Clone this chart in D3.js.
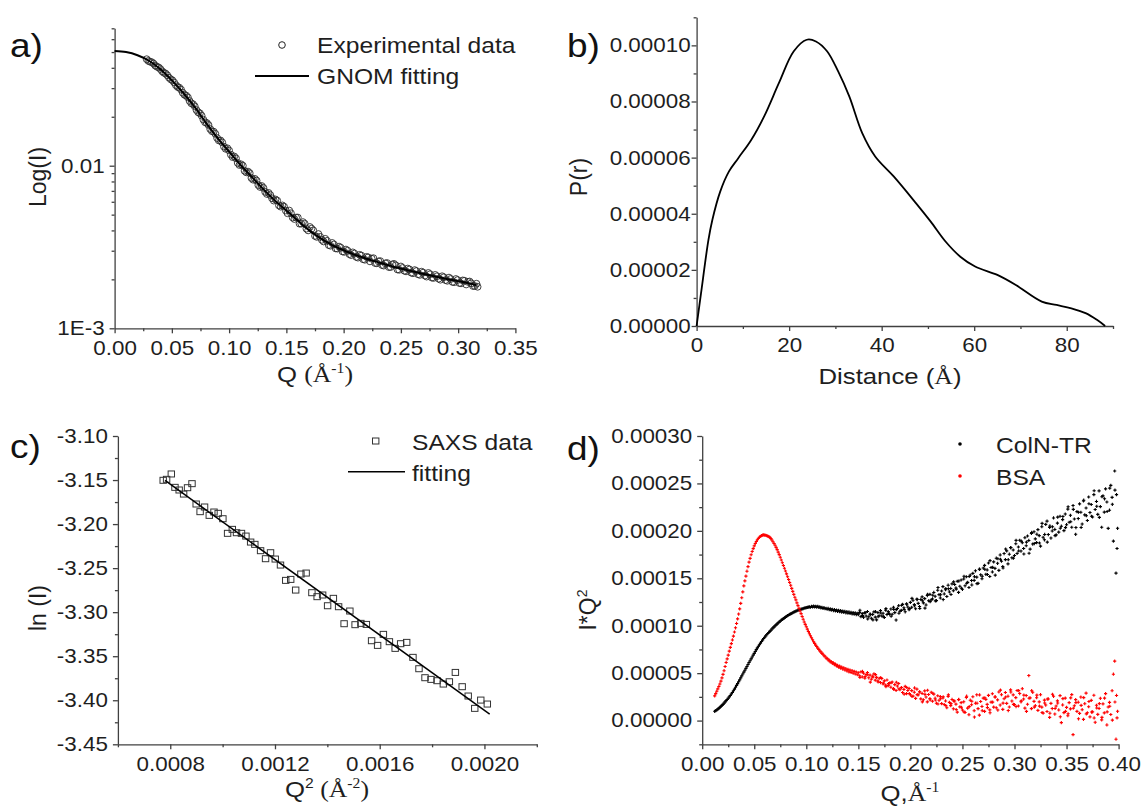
<!DOCTYPE html>
<html>
<head>
<meta charset="utf-8">
<script src="https://cdn.jsdelivr.net/npm/d3@7"></script>
<style>
  body { margin: 0; background: #fff; }
  svg { display: block; font-family: "Liberation Sans", Arial, sans-serif; }
  .tick text { font-size: 20px; fill: #1e1e1e; }
  .domain, .tick line { stroke: #404040; stroke-width: 1.3; }
  .title { font-size: 23px; fill: #1e1e1e; }
  .legend { font-size: 22px; fill: #1e1e1e; }
  .panel { font-size: 33px; fill: #111; }
  .serif { font-family: "Liberation Serif", "Times New Roman", serif; }
</style>
</head>
<body>
<div id="chart"></div>
<script>
// ---- a) SAXS curve, log scale ----
const aExpQ = [0.028,0.031,0.034,0.037,0.040,0.043,0.046,0.049,0.052,0.055,0.058,0.061,0.064,0.067,0.070,0.073,0.076,0.079,0.082,0.085,0.088,0.091,0.094,0.097,0.100,0.103,0.106,0.109,0.112,0.115,0.118,0.121,0.124,0.127,0.130,0.133,0.136,0.139,0.142,0.145,0.148,0.151,0.154,0.157,0.160,0.163,0.166,0.169,0.172,0.175,0.178,0.181,0.184,0.187,0.190,0.193,0.196,0.199,0.202,0.205,0.208,0.211,0.214,0.217,0.220,0.223,0.226,0.229,0.232,0.235,0.238,0.241,0.244,0.247,0.250,0.253,0.256,0.259,0.262,0.265,0.268,0.271,0.274,0.277,0.280,0.283,0.286,0.289,0.292,0.295,0.298,0.301,0.304,0.307,0.310,0.313,0.316,0.317];
const aExpI = [0.0452,0.0436,0.0425,0.0406,0.0393,0.0373,0.0360,0.0340,0.0325,0.0305,0.0294,0.0273,0.0263,0.0242,0.0232,0.0213,0.0203,0.0185,0.0178,0.0163,0.0157,0.0143,0.0139,0.0127,0.0124,0.0113,0.0111,0.0101,0.0100,0.0091,0.0090,0.0082,0.0081,0.0074,0.0073,0.0067,0.0066,0.0061,0.0061,0.0056,0.0056,0.0051,0.0051,0.0047,0.0048,0.0044,0.0044,0.0040,0.0041,0.0037,0.0038,0.0035,0.00355,0.00325,0.00335,0.00310,0.00318,0.00297,0.00305,0.00286,0.00293,0.00275,0.00283,0.00266,0.00275,0.00258,0.00270,0.00251,0.00259,0.00243,0.00252,0.00238,0.00249,0.00230,0.00240,0.00226,0.00233,0.00220,0.00228,0.00215,0.00223,0.00211,0.00219,0.00205,0.00213,0.00202,0.00209,0.00198,0.00205,0.00193,0.00201,0.00190,0.00197,0.00186,0.00194,0.00182,0.00188,0.00180];
const aExpQ2 = [0.0295,0.0325,0.0355,0.0385,0.0415,0.0445,0.0475,0.0505,0.0535,0.0565,0.0595,0.0625,0.0655,0.0685,0.0715,0.0745,0.0775,0.0805,0.0835,0.0865,0.0895,0.0925,0.0955,0.0985,0.1015,0.1045,0.1075,0.1105,0.1135,0.1165,0.1195,0.1225,0.1255,0.1285,0.1315,0.1345,0.1375,0.1405,0.1435,0.1465,0.1495,0.1525,0.1555,0.1585,0.1615,0.1645,0.1675,0.1705,0.1735,0.1765,0.1795,0.1825,0.1855,0.1885,0.1915,0.1945,0.1975,0.2005,0.2035,0.2065,0.2095,0.2125,0.2155,0.2185,0.2215,0.2245,0.2275,0.2305,0.2335,0.2365,0.2395,0.2425,0.2455,0.2485,0.2515,0.2545,0.2575,0.2605,0.2635,0.2665,0.2695,0.2725,0.2755,0.2785,0.2815,0.2845,0.2875,0.2905,0.2935,0.2965,0.2995,0.3025,0.3055,0.3085,0.3115,0.3145];
const aExpI2 = [0.0441,0.0433,0.0413,0.0402,0.0381,0.0369,0.0348,0.0335,0.0313,0.0302,0.0281,0.0270,0.0250,0.0239,0.0220,0.0210,0.0192,0.0183,0.0168,0.0162,0.0148,0.0143,0.0131,0.0128,0.0117,0.0114,0.0104,0.0102,0.0093,0.0092,0.0084,0.0083,0.0076,0.0075,0.0069,0.0068,0.0063,0.0062,0.0057,0.0057,0.0053,0.0053,0.0048,0.0048,0.0044,0.0045,0.0041,0.0042,0.0040,0.00365,0.00365,0.00342,0.00345,0.00322,0.00328,0.00309,0.00313,0.00295,0.00300,0.00282,0.00288,0.00272,0.00280,0.00264,0.00273,0.00268,0.00252,0.00258,0.00245,0.00251,0.00238,0.00247,0.00244,0.00229,0.00235,0.00224,0.00230,0.00218,0.00225,0.00213,0.00220,0.00208,0.00215,0.00204,0.00209,0.00199,0.00206,0.00196,0.00201,0.00192,0.00198,0.00189,0.00196,0.00193,0.00189,0.00182];
const aFitQ = [0,0.01,0.02,0.03,0.04,0.05,0.06,0.07,0.08,0.09,0.10,0.11,0.12,0.13,0.14,0.15,0.16,0.17,0.18,0.19,0.20,0.21,0.22,0.23,0.24,0.25,0.26,0.27,0.28,0.29,0.30,0.31,0.316];
const aFitI = [0.0508,0.0500,0.0478,0.0442,0.0392,0.0335,0.0280,0.0229,0.0183,0.0148,0.0122,0.0101,0.0085,0.00715,0.0061,0.0053,0.0046,0.0040,0.00357,0.00325,0.00302,0.00283,0.00268,0.00255,0.00243,0.00233,0.00224,0.00216,0.00208,0.00201,0.00195,0.00189,0.00184];

// ---- b) pair distance distribution ----
const bR = [0,0.96,2.56,3.4,5.1,7,9,11.8,14.6,17.8,21,23.8,25.8,28.2,30.6,33,35.8,38.6,42.6,47.4,50.6,53.8,57,60.2,65,69,74.6,77.8,81,84.2,86.6,88.3];
const bP = [0,0.0000117,0.0000307,0.0000378,0.0000479,0.0000551,0.0000598,0.0000663,0.0000747,0.0000866,0.0000979,0.000102,0.0001014,0.0000979,0.0000907,0.0000818,0.0000687,0.0000604,0.0000533,0.0000438,0.0000372,0.0000301,0.0000247,0.0000212,0.0000182,0.0000146,0.0000087,0.0000075,0.0000063,0.0000045,0.0000021,0];

// ---- c) Guinier plot ----
const cQ2 = [0.000773,0.000786,0.000804,0.000818,0.000834,0.000851,0.000866,0.000883,0.000899,0.000914,0.000931,0.000949,0.000967,0.000983,0.001001,0.001019,0.001037,0.001053,0.001072,0.001089,0.001107,0.001123,0.001145,0.001164,0.001183,0.001201,0.001221,0.001241,0.001260,0.001279,0.001299,0.001319,0.001341,0.001361,0.001382,0.001401,0.001423,0.001443,0.001464,0.001486,0.001506,0.001528,0.001549,0.001569,0.001592,0.001614,0.001637,0.001659,0.001680,0.001703,0.001727,0.001750,0.001773,0.001796,0.001819,0.001843,0.001866,0.001889,0.001915,0.001938,0.001963,0.001986,0.002011];
const cLnI = [-3.1503,-3.1492,-3.1431,-3.1583,-3.1613,-3.1659,-3.1587,-3.1541,-3.1772,-3.1859,-3.1806,-3.1901,-3.1863,-3.1878,-3.1939,-3.2105,-3.2060,-3.2098,-3.2105,-3.2136,-3.2204,-3.2230,-3.2302,-3.2393,-3.2325,-3.2397,-3.2465,-3.2639,-3.2628,-3.2749,-3.2567,-3.2556,-3.2779,-3.2824,-3.2805,-3.2927,-3.2843,-3.2938,-3.3131,-3.2987,-3.3142,-3.3127,-3.3139,-3.3324,-3.3377,-3.3252,-3.3335,-3.3411,-3.3358,-3.3343,-3.3513,-3.3642,-3.3744,-3.3763,-3.3778,-3.3816,-3.3790,-3.3684,-3.3846,-3.3952,-3.4092,-3.3998,-3.4043];
const cFitQ2 = [0.00078, 0.00202];
const cFitLnI = [-3.1505, -3.4157];

// ---- d) Kratky plot, I*Q^2 given in units of 1e-6 ----
// low-Q part
const dQ1 = [0.012,0.013,0.014,0.015,0.016,0.017,0.018,0.019,0.020,0.021,0.022,0.023,0.024,0.025,0.026,0.027,0.028,0.029,0.030,0.031,0.032,0.033,0.034,0.035,0.036,0.037,0.038,0.039,0.040,0.041,0.042,0.043,0.044,0.045,0.046,0.047,0.048,0.049,0.050,0.051,0.052,0.053,0.054,0.055,0.056,0.057,0.058,0.059,0.060,0.061,0.062,0.063,0.064,0.065,0.066,0.067,0.068,0.069,0.070,0.071,0.072,0.073,0.074,0.075,0.076,0.077,0.078,0.079,0.080,0.081,0.082,0.083,0.084,0.085,0.086,0.087,0.088,0.089,0.090,0.091,0.092,0.093,0.094,0.095,0.096,0.097,0.098,0.099,0.100,0.101,0.102,0.103,0.104,0.105,0.106,0.107,0.108,0.109,0.110,0.111,0.112,0.113,0.114,0.115,0.116,0.117,0.118,0.119,0.120,0.121,0.122,0.123,0.124,0.125,0.126,0.127,0.128,0.129,0.130,0.131,0.132,0.133,0.134,0.135,0.136,0.137,0.138,0.139,0.140,0.141,0.142,0.143,0.144,0.145,0.146,0.147,0.148,0.149,0.150];
const dColN1 = [9.8,10.5,11.2,12.0,12.9,13.9,15.0,16.0,17.1,18.4,19.7,21.0,22.3,23.5,25.0,26.5,28.0,29.6,31.4,33.2,35.1,37.1,39.0,41.0,42.9,45.0,47.1,49.1,51.1,53.0,55.0,57.0,59.2,61.2,63.1,65.1,67.0,69.0,70.9,72.9,74.8,76.6,78.3,80.0,81.7,83.4,85.0,86.5,87.9,89.2,90.5,91.8,92.9,94.0,95.3,96.5,97.7,98.8,99.9,100.9,102.0,103.1,104.0,104.9,105.8,106.7,107.5,108.3,109.1,109.9,110.6,111.3,111.9,112.5,113.1,113.7,114.3,114.8,115.3,115.8,116.3,116.6,117.0,117.4,117.7,118.1,118.5,118.8,119.1,119.4,119.6,119.9,119.5,120.3,119.8,120.6,119.9,120.5,119.6,120.4,119.4,119.9,118.8,119.5,118.3,119.0,117.9,118.4,117.4,118.2,116.9,117.8,116.4,117.3,116.0,117.0,115.6,116.6,115.2,116.3,114.8,115.9,114.4,115.5,114.0,115.2,113.6,114.8,113.2,114.5,112.9,114.1,112.5,113.8,112.1,113.5,111.8,113.1,111.6];
const dBSA1 = [26.0,28.4,31.0,33.4,36.0,38.6,41.6,45.0,48.7,52.6,57.0,61.3,65.1,69.0,73.2,77.2,81.1,85.0,89.0,93.4,97.8,102.4,107.2,112.3,117.8,123.6,129.5,135.7,142.0,147.3,152.3,157.5,162.3,167.0,171.0,174.8,178.2,181.3,184.2,186.6,188.8,190.6,192.2,193.3,194.3,195.0,195.5,195.8,195.6,195.4,195.0,194.5,193.9,193.1,191.8,190.3,188.5,186.7,184.9,182.6,180.2,177.6,174.9,172.2,169.3,166.4,163.5,160.6,157.7,154.7,151.6,148.7,145.6,142.6,139.4,136.2,133.0,130.0,127.2,124.1,121.2,118.3,115.5,112.8,109.8,106.9,104.0,101.4,98.9,96.4,93.9,91.6,89.4,87.3,85.2,83.1,81.4,79.5,78.1,76.4,75.1,73.4,72.4,70.9,70.0,68.3,67.8,65.9,65.6,63.8,63.7,61.9,62.2,60.4,60.8,58.9,59.5,57.6,58.3,56.4,57.4,55.3,56.4,54.3,55.6,53.3,54.7,52.4,54.0,51.4,53.2,50.7,52.6,49.9,51.9,49.1,51.2,48.3,50.4];
// high-Q part, fine grid
const dQ2 = [0.15125,0.1525,0.15375,0.155,0.15625,0.1575,0.15875,0.160,
  0.16125,0.1625,0.16375,0.165,0.16625,0.1675,0.16875,0.170,
  0.17125,0.1725,0.17375,0.175,0.17625,0.1775,0.17875,0.180,
  0.18125,0.1825,0.18375,0.185,0.18625,0.1875,0.18875,0.190,
  0.19125,0.1925,0.19375,0.195,0.19625,0.1975,0.19875,0.200,
  0.20125,0.2025,0.20375,0.205,0.20625,0.2075,0.20875,0.210,
  0.21125,0.2125,0.21375,0.215,0.21625,0.2175,0.21875,0.220,
  0.22125,0.2225,0.22375,0.225,0.22625,0.2275,0.22875,0.230,
  0.23125,0.2325,0.23375,0.235,0.23625,0.2375,0.23875,0.240,
  0.24125,0.2425,0.24375,0.245,0.24625,0.2475,0.24875,0.250,
  0.25125,0.2525,0.25375,0.255,0.25625,0.2575,0.25875,0.260,
  0.26125,0.2625,0.26375,0.265,0.26625,0.2675,0.26875,0.270,
  0.27125,0.2725,0.27375,0.275,0.27625,0.2775,0.27875,0.280,
  0.28125,0.2825,0.28375,0.285,0.28625,0.2875,0.28875,0.290,
  0.29125,0.2925,0.29375,0.295,0.29625,0.2975,0.29875,0.300,
  0.30125,0.3025,0.30375,0.305,0.30625,0.3075,0.30875,0.310,
  0.31125,0.3125,0.31375,0.315,0.31625,0.3175,0.31875,0.320,
  0.32125,0.3225,0.32375,0.325,0.32625,0.3275,0.32875,0.330,
  0.33125,0.3325,0.33375,0.335,0.33625,0.3375,0.33875,0.340,
  0.34125,0.3425,0.34375,0.345,0.34625,0.3475,0.34875,0.350,
  0.35125,0.3525,0.35375,0.355,0.35625,0.3575,0.35875,0.360,
  0.36125,0.3625,0.36375,0.365,0.36625,0.3675,0.36875,0.370,
  0.37125,0.3725,0.37375,0.375,0.37625,0.3775,0.37875,0.380,
  0.38125,0.3825,0.38375,0.385,0.38625,0.3875,0.38875,0.390,
  0.39125,0.3925,0.39375,0.395,0.39625,0.3975,0.3980,0.3985,0.3990];
const dColN2 = [114.1,109.6,112.8,108.9,113.5,110.2,115.0,109.4,
  112.4,107.8,111.9,114.6,109.1,106.2,113.8,110.5,
  115.9,110.3,113.1,108.7,116.4,111.8,114.9,112.2,
  117.6,112.1,119.4,113.8,106.0,118.2,121.1,115.3,
  116.2,122.5,118.9,114.7,123.1,119.8,117.0,124.6,
  119.4,126.8,122.3,117.9,128.1,123.6,120.2,127.7,
  130.4,124.1,128.6,121.9,131.8,126.3,133.0,127.4,
  128.2,135.1,131.0,126.5,137.4,132.8,129.3,136.6,
  141.2,133.5,137.9,130.8,142.7,135.6,139.3,144.1,
  136.9,143.5,139.8,146.9,135.2,141.6,148.2,138.4,
  149.3,142.1,151.6,145.7,140.3,153.4,147.6,155.2,
  147.8,157.9,151.2,144.6,159.6,153.7,149.5,160.8,
  163.6,154.2,158.8,166.1,151.9,161.4,156.7,167.3,
  160.5,171.2,165.8,158.3,174.6,168.0,162.4,176.1,
  169.7,178.9,165.2,175.4,182.3,171.6,179.8,174.0,
  186.4,176.2,183.0,190.1,178.7,187.5,181.4,192.8,
  184.3,194.6,189.9,180.7,197.2,186.1,199.0,191.5,
  187.6,201.3,195.0,183.9,204.4,193.2,190.6,206.8,
  210.3,196.1,203.7,192.4,199.9,213.6,201.5,195.8,
  208.2,198.7,215.4,204.9,211.8,200.3,217.7,206.5,
  222.9,209.1,216.4,203.8,226.7,212.5,196.4,220.3,
  213.0,228.4,219.6,207.2,231.5,216.8,224.1,210.9,
  235.7,219.3,227.8,214.6,238.2,222.5,231.0,217.4,
  242.1,225.6,203.8,236.9,219.7,244.3,230.4,202.6,
  221.8,247.9,235.3,189.2,263.1,155.4,238.2,181.4,202.7];
const dBSA2 = [47.2,51.3,46.0,49.9,44.8,48.6,50.7,45.1,
  47.9,43.6,46.8,49.2,42.7,45.5,41.8,44.6,
  40.1,44.3,38.6,41.9,37.4,42.8,36.9,39.5,
  35.2,40.6,33.8,37.9,31.7,36.4,39.1,32.5,
  34.8,29.6,32.9,36.1,28.4,31.7,33.9,27.3,
  31.6,25.8,29.9,23.4,33.2,27.1,30.4,22.9,
  28.6,21.9,31.3,24.8,19.7,27.5,23.1,29.8,
  20.4,27.9,23.6,18.3,26.2,21.4,25.3,17.9,
  23.8,16.9,20.7,13.6,25.4,19.2,15.8,22.3,
  12.4,20.6,17.3,8.9,22.1,14.5,18.9,11.2,
  19.8,8.6,24.3,13.1,6.2,21.5,16.7,25.1,
  10.4,18.3,27.2,12.6,5.8,20.1,14.9,23.7,
  9.7,22.4,17.1,26.6,11.3,19.5,28.3,14.2,
  24.9,13.5,21.8,30.2,16.4,27.3,11.8,23.0,
  29.6,18.1,25.7,14.3,32.4,20.6,27.1,16.9,
  24.2,31.7,15.4,28.5,19.8,33.6,22.7,13.1,
  26.4,17.2,47.5,23.9,12.6,29.8,20.3,15.7,
  24.1,10.8,19.7,27.3,14.2,7.9,21.6,16.4,
  9.6,22.8,3.4,18.1,12.7,25.6,6.9,15.3,
  20.8,11.2,26.3,-2.1,16.5,8.4,23.7,13.9,
  5.1,18.9,12.3,27.4,-14.8,15.6,22.1,9.7,
  19.4,7.6,24.8,11.5,1.3,17.8,28.9,8.2,
  14.6,3.9,21.3,9.2,26.7,-1.8,16.1,6.5,
  12.8,23.5,0.7,17.6,8.1,28.4,-4.6,14.3,
  19.2,6.4,31.5,48.9,62.7,-19.6,26.5,2.9,9.8];
// high-Q part, second (interleaved) set of readings
const dQ3 = [0.1515,0.1540,0.1565,0.1590,0.1615,0.1640,0.1665,0.1690,0.1715,0.1740,0.1765,0.1790,0.1815,0.1840,0.1865,0.1890,0.1915,0.1940,0.1965,0.1990,0.2015,0.2040,0.2065,0.2090,0.2115,0.2140,0.2165,0.2190,0.2215,0.2240,0.2265,0.2290,0.2315,0.2340,0.2365,0.2390,0.2415,0.2440,0.2465,0.2490,0.2515,0.2540,0.2565,0.2590,0.2615,0.2640,0.2665,0.2690,0.2715,0.2740,0.2765,0.2790,0.2815,0.2840,0.2865,0.2890,0.2915,0.2940,0.2965,0.2990,0.3015,0.3040,0.3065,0.3090,0.3115,0.3140,0.3165,0.3190,0.3215,0.3240,0.3265,0.3290,0.3315,0.3340,0.3365,0.3390,0.3415,0.3440,0.3465,0.3490,0.3515,0.3540,0.3565,0.3590,0.3615,0.3640,0.3665,0.3690,0.3715,0.3740,0.3765,0.3790,0.3815,0.3840,0.3865,0.3890,0.3915,0.3940,0.3965];
const dColN3 = [116.3,110.6,113.8,107.1,111.6,106.2,114.8,109.5,113.4,109.5,118.1,113.2,110.0,117.2,117.0,113.2,121.6,117.1,122.6,118.1,
  128.8,121.0,127.6,118.2,126.4,118.6,133.2,125.4,132.2,126.2,140.3,132.7,127.6,139.2,138.9,132.9,146.2,138.6,147.1,139.5,
  152.1,144.8,151.9,143.0,151.7,144.4,159.5,152.2,159.5,154.0,168.6,161.5,
  153.3,170.6,170.0,160.9,180.8,169.6,182.4,171.2,190.0,178.8,189.2,175.6,188.1,176.4,198.3,186.6,196.5,187.2,207.9,196.2,188.1,205.2,204.3,195.0,214.5,202.8,215.1,203.4,
  225.4,209.6,222.6,203.5,219.6,203.6,232.3,216.0,228.6,215.4,242.3,225.9,214.2,236.0,233.8,220.4,245.1,228.0,242.9];
const dBSA3 = [45.5,51.8,46.5,48.3,40.5,45.8,48.5,40.8,45.3,39.5,35.8,39.0,39.9,32.9,40.4,33.4,34.9,27.9,34.9,28.4,
  25.4,34.4,27.4,30.1,19.7,27.6,32.0,21.7,28.8,21.7,17.5,23.0,25.1,15.9,27.1,17.9,20.7,11.7,22.3,14.0,
  9.2,25.7,14.7,20.4,3.7,18.3,27.0,10.4,24.0,13.7,8.2,19.5,24.9,11.1,32.1,18.4,24.8,10.6,30.1,17.1,
  14.8,31.6,20.8,26.8,9.7,23.6,31.5,14.2,26.8,15.2,8.5,18.5,22.7,7.8,27.7,12.8,18.5,4.0,23.1,9.7,
  7.2,23.9,13.0,18.9,1.9,16.0,24.2,7.1,20.1,9.0,2.8,13.3,17.9,3.4,23.7,9.2,15.1,0.5,19.6];

const SX = 1.12; // the reference lettering is drawn a little wider than high

const svg = d3.select("#chart").append("svg").attr("width", 1142).attr("height", 811);

// move x/y of a text into a transform so it can be stretched horizontally
function stretch(sel) {
  sel.each(function () {
    const t = d3.select(this);
    const x = +t.attr("x") || 0, y = +t.attr("y") || 0;
    t.attr("x", null).attr("y", null).attr("transform", `translate(${x},${y}) scale(${SX},1)`);
  });
}

// draws left/bottom axes with major (labelled) and minor ticks
function drawAxes(x, y, cfg) {
  const y0 = y.range()[0], x0 = x.range()[0];
  const gx = svg.append("g").attr("transform", `translate(0,${y0})`);
  gx.call(d3.axisBottom(x).tickValues(cfg.xMajor).tickFormat(cfg.xFmt).tickSize(5).tickSizeOuter(0).tickPadding(7));
  svg.append("g").attr("transform", `translate(0,${y0})`)
    .call(d3.axisBottom(x).tickValues(cfg.xMinor).tickFormat("").tickSize(3))
    .select(".domain").remove();
  const gy = svg.append("g").attr("transform", `translate(${x0},0)`);
  gy.call(d3.axisLeft(y).tickValues(cfg.yMajor).tickFormat(cfg.yFmt).tickSize(5).tickSizeOuter(0).tickPadding(cfg.yPad));
  svg.append("g").attr("transform", `translate(${x0},0)`)
    .call(d3.axisLeft(y).tickValues(cfg.yMinor).tickFormat("").tickSize(3))
    .select(".domain").remove();
  gx.selectAll(".tick text").call(stretch);
  gy.selectAll(".tick text").call(stretch);
}

function label(cls, txt, x, yb) {
  return svg.append("text").attr("class", cls).attr("x", x).attr("y", yb).text(txt).call(stretch);
}

// ---------- panel a ----------
{
  const x = d3.scaleLinear().domain([0, 0.35]).range([114.6, 515.4]);
  const y = d3.scaleLog().domain([0.001, 0.07]).range([328.3, 28.3]);
  drawAxes(x, y, {
    xMajor: [0, 0.05, 0.10, 0.15, 0.20, 0.25, 0.30, 0.35], xMinor: [0.025, 0.075, 0.125, 0.175, 0.225, 0.275, 0.325], xFmt: d3.format(".2f"),
    yMajor: [0.001, 0.01], yFmt: d => d === 0.01 ? "0.01" : "1E-3", yPad: 5,
    yMinor: [0.002,0.003,0.004,0.005,0.006,0.007,0.008,0.009,0.02,0.03,0.04,0.05,0.06,0.07]
  });
  const exp = aExpQ.map((q, i) => [q, aExpI[i]]).concat(aExpQ2.map((q, i) => [q, aExpI2[i]]));
  svg.append("g").selectAll("circle").data(exp).join("circle")
    .attr("cx", d => x(d[0])).attr("cy", d => y(d[1])).attr("r", 3.4)
    .attr("fill", "none").attr("stroke", "#2a2a2a").attr("stroke-width", 0.9);
  const fit = aFitQ.map((q, i) => [q, aFitI[i]]);
  svg.append("path").datum(fit)
    .attr("d", d3.line().x(d => x(d[0])).y(d => y(d[1])).curve(d3.curveCatmullRom))
    .attr("fill", "none").attr("stroke", "#000").attr("stroke-width", 2);
  // legend
  svg.append("circle").attr("cx", 282).attr("cy", 45).attr("r", 3.3).attr("fill", "none").attr("stroke", "#222");
  label("legend", "Experimental data", 317, 53);
  svg.append("line").attr("x1", 255).attr("x2", 309).attr("y1", 76).attr("y2", 76).attr("stroke", "#000").attr("stroke-width", 1.8);
  label("legend", "GNOM fitting", 317, 84);
  // titles
  const t = svg.append("text").attr("class", "title").attr("x", 315).attr("y", 382).attr("text-anchor", "middle");
  t.append("tspan").text("Q ");
  t.append("tspan").attr("class", "serif").text("(Å");
  t.append("tspan").attr("class", "serif").attr("font-size", 14).attr("dy", -9).text("-1");
  t.append("tspan").attr("class", "serif").attr("dy", 9).text(")");
  t.call(stretch);
  svg.append("text").attr("class", "title").attr("transform", "translate(46,177) rotate(-90)")
    .attr("text-anchor", "middle").text("Log(I)");
  label("panel", "a)", 10, 57);
}

// ---------- panel b ----------
{
  const x = d3.scaleLinear().domain([0, 90]).range([696.6, 1113]);
  const y = d3.scaleLinear().domain([0, 0.00011]).range([326, 17.3]);
  drawAxes(x, y, {
    xMajor: [0, 20, 40, 60, 80], xMinor: [10, 30, 50, 70, 90], xFmt: d3.format("d"),
    yMajor: [0, 0.00002, 0.00004, 0.00006, 0.00008, 0.0001], yFmt: d3.format(".5f"), yPad: 1,
    yMinor: [0.00001, 0.00003, 0.00005, 0.00007, 0.00009, 0.00011]
  });
  const pr = bR.map((r, i) => [r, bP[i]]);
  svg.append("path").datum(pr)
    .attr("d", d3.line().x(d => x(d[0])).y(d => y(d[1])).curve(d3.curveCatmullRom))
    .attr("fill", "none").attr("stroke", "#000").attr("stroke-width", 1.8);
  const t = svg.append("text").attr("class", "title").attr("x", 890).attr("y", 384).attr("text-anchor", "middle");
  t.append("tspan").text("Distance (");
  t.append("tspan").attr("class", "serif").text("Å");
  t.append("tspan").text(")");
  t.call(stretch);
  svg.append("text").attr("class", "title").attr("transform", "translate(587,177) rotate(-90)")
    .attr("text-anchor", "middle").text("P(r)");
  label("panel", "b)", 567, 57);
}

// ---------- panel c ----------
{
  const x = d3.scaleLinear().domain([0.0006, 0.0022]).range([117.9, 536.8]);
  const y = d3.scaleLinear().domain([-3.45, -3.10]).range([744.3, 436]);
  drawAxes(x, y, {
    xMajor: [0.0008, 0.0012, 0.0016, 0.0020], xMinor: [0.0006, 0.0010, 0.0014, 0.0018, 0.0022], xFmt: d3.format(".4f"),
    yMajor: [-3.45, -3.40, -3.35, -3.30, -3.25, -3.20, -3.15, -3.10], yFmt: d => d3.format(".2f")(d).replace("−", "-"), yPad: 5,
    yMinor: [-3.425, -3.375, -3.325, -3.275, -3.225, -3.175, -3.125]
  });
  const pts = cQ2.map((q, i) => [q, cLnI[i]]);
  svg.append("g").selectAll("rect").data(pts).join("rect")
    .attr("x", d => x(d[0]) - 3.2).attr("y", d => y(d[1]) - 3).attr("width", 6.4).attr("height", 6)
    .attr("fill", "none").attr("stroke", "#333").attr("stroke-width", 1);
  const fit = cFitQ2.map((q, i) => [q, cFitLnI[i]]);
  svg.append("path").datum(fit)
    .attr("d", d3.line().x(d => x(d[0])).y(d => y(d[1])))
    .attr("fill", "none").attr("stroke", "#000").attr("stroke-width", 1.5);
  // legend
  svg.append("rect").attr("x", 372.5).attr("y", 438).attr("width", 6.4).attr("height", 6)
    .attr("fill", "none").attr("stroke", "#333");
  label("legend", "SAXS data", 412, 450);
  svg.append("line").attr("x1", 348).attr("x2", 405).attr("y1", 471.7).attr("y2", 471.7).attr("stroke", "#000").attr("stroke-width", 1.5);
  label("legend", "fitting", 412, 481);
  const t = svg.append("text").attr("class", "title").attr("x", 327).attr("y", 797).attr("text-anchor", "middle");
  t.append("tspan").text("Q");
  t.append("tspan").attr("font-size", 14).attr("dy", -9).text("2");
  t.append("tspan").attr("class", "serif").attr("dy", 9).text(" (Å");
  t.append("tspan").attr("class", "serif").attr("font-size", 14).attr("dy", -9).text("-2");
  t.append("tspan").attr("class", "serif").attr("dy", 9).text(")");
  t.call(stretch);
  svg.append("text").attr("class", "title").attr("transform", "translate(46,608) rotate(-90)")
    .attr("text-anchor", "middle").text("ln (I)");
  label("panel", "c)", 10, 458);
}

// ---------- panel d ----------
{
  const x = d3.scaleLinear().domain([0, 0.40]).range([702.2, 1118.6]);
  const y = d3.scaleLinear().domain([-0.000025, 0.0003]).range([744.3, 436]);
  drawAxes(x, y, {
    xMajor: [0, 0.05, 0.10, 0.15, 0.20, 0.25, 0.30, 0.35, 0.40], xMinor: [0.025, 0.075, 0.125, 0.175, 0.225, 0.275, 0.325, 0.375], xFmt: d3.format(".2f"),
    yMajor: [0, 0.00005, 0.0001, 0.00015, 0.0002, 0.00025, 0.0003], yFmt: d3.format(".5f"), yPad: 5,
    yMinor: [-0.000025, 0.000025, 0.000075, 0.000125, 0.000175, 0.000225, 0.000275]
  });
  const dQ = dQ1.concat(dQ2, dQ3);
  const cross = "M-1.6,0H1.6M0,-1.6V1.6";
  const series = [
    { vals: dColN1.concat(dColN2, dColN3), color: "#000" },
    { vals: dBSA1.concat(dBSA2, dBSA3), color: "#ff0000" }
  ];
  series.forEach(s => {
    svg.append("g").selectAll("path").data(dQ.map((q, i) => [q, s.vals[i] * 1e-6])).join("path")
      .attr("transform", d => `translate(${x(d[0])},${y(d[1])})`)
      .attr("d", cross).attr("stroke", s.color).attr("stroke-width", 1.1);
  });
  // legend
  svg.append("circle").attr("cx", 960).attr("cy", 444).attr("r", 1.8).attr("fill", "#000");
  label("legend", "ColN-TR", 996, 453);
  svg.append("circle").attr("cx", 960).attr("cy", 476).attr("r", 1.8).attr("fill", "#ff0000");
  label("legend", "BSA", 996, 485);
  const t = svg.append("text").attr("class", "title").attr("x", 910).attr("y", 801).attr("text-anchor", "middle");
  t.append("tspan").text("Q,");
  t.append("tspan").attr("class", "serif").text("Å");
  t.append("tspan").attr("class", "serif").attr("font-size", 14).attr("dy", -9).text("-1");
  t.call(stretch);
  const ty = svg.append("text").attr("class", "title").attr("transform", "translate(596,610) rotate(-90)")
    .attr("text-anchor", "middle");
  ty.append("tspan").text("I*Q");
  ty.append("tspan").attr("font-size", 14).attr("dy", -9).text("2");
  label("panel", "d)", 567, 460);
}
</script>
</body>
</html>
